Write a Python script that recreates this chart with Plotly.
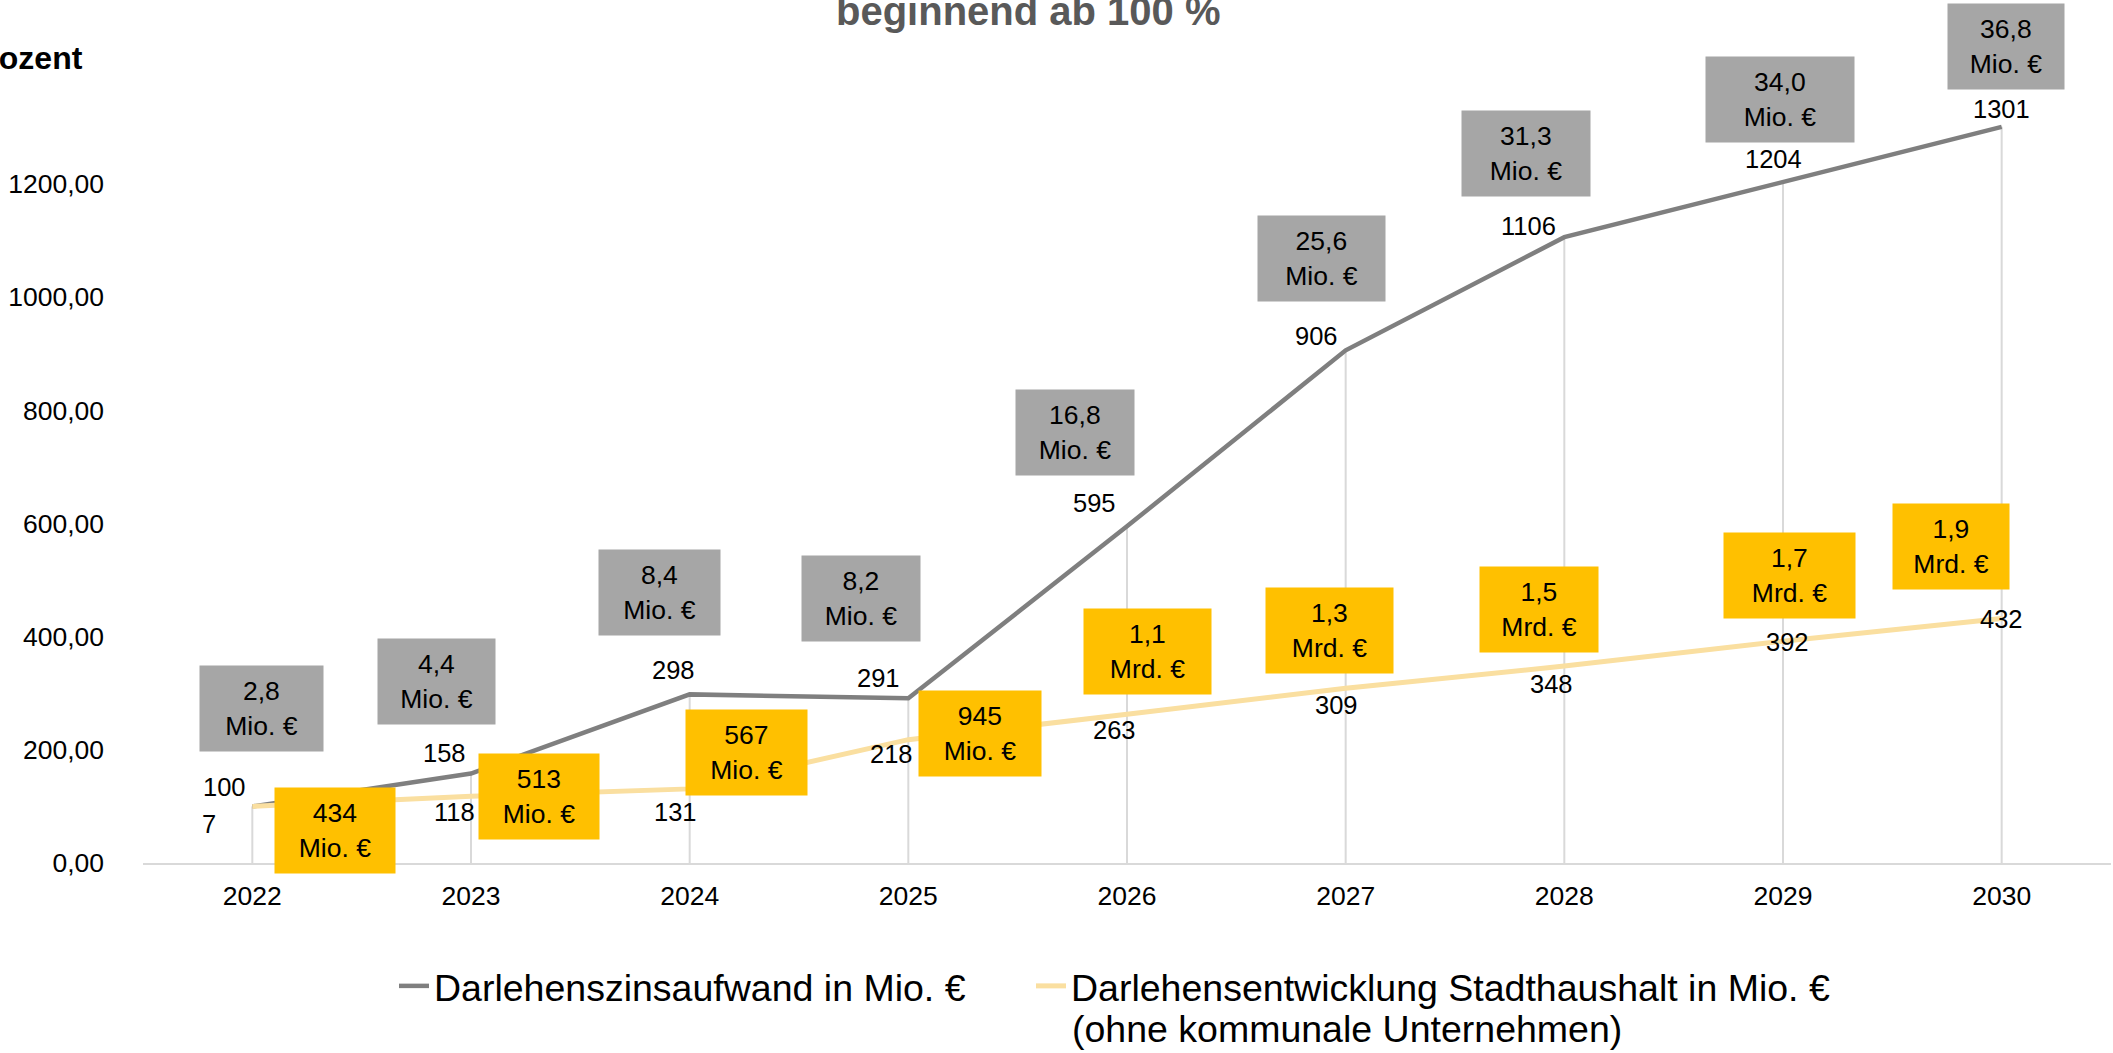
import plotly.graph_objects as go

# ---------------- data ----------------
YEARS = ["2022", "2023", "2024", "2025", "2026", "2027", "2028", "2029", "2030"]
ZINS_INDEX = [100, 158, 298, 291, 595, 906, 1106, 1204, 1301]
DARLEHEN_INDEX = [100, 118, 131, 218, 263, 309, 348, 392, 432]
ZINS_VALUE_LABELS = ["100", "158", "298", "291", "595", "906", "1106", "1204", "1301"]
DARLEHEN_VALUE_LABELS = ["7", "118", "131", "218", "263", "309", "348", "392", "432"]
ZINS_BETRAG = ["2,8<br>Mio. €", "4,4<br>Mio. €", "8,4<br>Mio. €", "8,2<br>Mio. €",
               "16,8<br>Mio. €", "25,6<br>Mio. €", "31,3<br>Mio. €", "34,0<br>Mio. €",
               "36,8<br>Mio. €"]
DARLEHEN_BETRAG = ["434<br>Mio. €", "513<br>Mio. €", "567<br>Mio. €", "945<br>Mio. €",
                   "1,1<br>Mrd. €", "1,3<br>Mrd. €", "1,5<br>Mrd. €", "1,7<br>Mrd. €",
                   "1,9<br>Mrd. €"]
Y_TICKS = [0, 200, 400, 600, 800, 1000, 1200]
Y_TICK_LABELS = ["0,00", "200,00", "400,00", "600,00", "800,00", "1000,00", "1200,00"]
SERIES_NAMES = ["Darlehenszinsaufwand in Mio. €",
                "Darlehensentwicklung Stadthaushalt in Mio. €"]
SERIES2_NAME_LINE2 = "(ohne kommunale Unternehmen)"
TITLE_TEXT = "beginnend ab 100 %"
AXIS_TITLE = "Prozent"

# ---------------- layout constants (pixel offsets of labels) ----------------
ZINS_LABEL_OFF = [(-28, -19), (-27, -21), (-16, -24), (-30, -20), (-33, -23),
                  (-29, -14), (-36, -11), (-10, -23), (0, -18)]
DARL_LABEL_OFF = [(-43, 18), (-17, 16), (-14, 23), (-17, 14), (-13, 16),
                  (-9, 17), (-13, 18), (4, 1), (0, 0)]
ZINS_BOX_OFF = [(9, -98), (-35, -92), (-30, -102), (-47, -100), (-52, -94),
                (-24, -92), (-38, -84), (-3, -82), (4, -80)]
DARL_BOX_OFF = [(83, 24), (68, 0), (57, -36), (72, -6), (20, -63),
                (-16, -58), (-25, -57), (6, -66), (-51, -72)]
ZINS_BOX_W = [123, 117, 121, 118, 118, 127, 128, 148, 116]
DARL_BOX_W = [120, 120, 121, 122, 127, 127, 118, 131, 116]
BOX_H = 85

GRAY_LINE = "#7F7F7F"
YELLOW_LINE = "#FADFA0"
GRAY_BOX = "#A6A6A6"
YELLOW_BOX = "#FFC000"
GRID = "#D9D9D9"
FONT = "Liberation Sans, Arial, sans-serif"
LEGEND_SIZE = 37.5

W, H = 2113, 1053
M_L, M_R, M_T, M_B = 143, 2, 0, 190
PLOT_H = H - M_T - M_B
PX_PER_UNIT = (PLOT_H - 184) / 1200.0
Y_MAX = PLOT_H / PX_PER_UNIT
PLOT_W = W - M_L - M_R

fig = go.Figure()

# drop lines from axis to the highest point of each category
dx, dy = [], []
for cat, a, b in zip(YEARS, ZINS_INDEX, DARLEHEN_INDEX):
    dx += [cat, cat, None]
    dy += [0, max(a, b), None]
fig.add_trace(go.Scatter(x=dx, y=dy, mode="lines", line=dict(color=GRID, width=2),
                         showlegend=False, hoverinfo="skip"))

fig.add_trace(go.Scatter(x=YEARS, y=ZINS_INDEX, mode="lines", name=SERIES_NAMES[0],
                         line=dict(color=GRAY_LINE, width=4.5), legend="legend"))
fig.add_trace(go.Scatter(x=YEARS, y=DARLEHEN_INDEX, mode="lines", name=SERIES_NAMES[1],
                         line=dict(color=YELLOW_LINE, width=5), legend="legend2"))

annotations = []
label_font = dict(family=FONT, size=25.5, color="#000000")
box_font = dict(family=FONT, size=26.5, color="#000000")

for i, cat in enumerate(YEARS):
    xi = YEARS.index(cat)  # category position on the category axis
    ox, oy = ZINS_LABEL_OFF[i]
    annotations.append(dict(x=xi, y=ZINS_INDEX[i], xref="x", yref="y", text=ZINS_VALUE_LABELS[i],
                            showarrow=False, xshift=ox, yshift=-oy, font=label_font,
                            xanchor="center", yanchor="middle"))
    ox, oy = DARL_LABEL_OFF[i]
    annotations.append(dict(x=xi, y=DARLEHEN_INDEX[i], xref="x", yref="y", text=DARLEHEN_VALUE_LABELS[i],
                            showarrow=False, xshift=ox, yshift=-oy, font=label_font,
                            xanchor="center", yanchor="middle"))

for i, cat in enumerate(YEARS):
    xi = YEARS.index(cat)
    ox, oy = ZINS_BOX_OFF[i]
    annotations.append(dict(x=xi, y=ZINS_INDEX[i], xref="x", yref="y", text=ZINS_BETRAG[i],
                            showarrow=False, xshift=ox, yshift=-oy, font=box_font,
                            bgcolor=GRAY_BOX, width=ZINS_BOX_W[i], height=BOX_H, borderpad=0,
                            xanchor="center", yanchor="middle", align="center", valign="middle"))
    ox, oy = DARL_BOX_OFF[i]
    annotations.append(dict(x=xi, y=DARLEHEN_INDEX[i], xref="x", yref="y", text=DARLEHEN_BETRAG[i],
                            showarrow=False, xshift=ox, yshift=-oy, font=box_font,
                            bgcolor=YELLOW_BOX, width=DARL_BOX_W[i], height=BOX_H, borderpad=0,
                            xanchor="center", yanchor="middle", align="center", valign="middle"))

# title (top partly cut off) and axis title (left partly cut off), as in the reference
annotations.append(dict(x=(1028 - M_L) / PLOT_W, y=1 - 11 / PLOT_H, xref="paper", yref="paper",
                        text="<b>" + TITLE_TEXT + "</b>", showarrow=False,
                        font=dict(family=FONT, size=40, color="#595959"),
                        xanchor="center", yanchor="middle"))
annotations.append(dict(x=(85 - M_L) / PLOT_W, y=1 - 58 / PLOT_H, xref="paper", yref="paper",
                        text="<b>" + AXIS_TITLE + "</b>", showarrow=False,
                        font=dict(family=FONT, size=32, color="#000000"),
                        xanchor="right", yanchor="middle"))
# second line of the second legend entry
annotations.append(dict(x=(1071 - M_L) / PLOT_W, y=1 - 1029 / PLOT_H, xref="paper", yref="paper",
                        text=SERIES2_NAME_LINE2, showarrow=False,
                        font=dict(family=FONT, size=LEGEND_SIZE, color="#000000"),
                        xanchor="left", yanchor="middle", borderpad=0))

legend_common = dict(orientation="h", xanchor="left", yref="container", xref="container",
                     y=1 - 955 / H, yanchor="top",
                     font=dict(family=FONT, size=LEGEND_SIZE, color="#000000"),
                     valign="top", bgcolor="rgba(0,0,0,0)")

fig.update_layout(
    width=W, height=H,
    margin=dict(l=M_L, r=M_R, t=M_T, b=M_B, pad=0),
    paper_bgcolor="white", plot_bgcolor="white",
    font=dict(family=FONT, color="#000000"),
    showlegend=True,
    legend=dict(x=394 / W, **legend_common),
    legend2=dict(x=1031 / W, **legend_common),
    xaxis=dict(type="category", range=[-0.5, len(YEARS) - 0.5], showgrid=False,
               showline=True, linecolor=GRID, linewidth=2, zeroline=False,
               ticks="", tickfont=dict(family=FONT, size=26.5, color="#000000"),
               ticklabelstandoff=8, fixedrange=True),
    yaxis=dict(range=[0, Y_MAX], tickvals=Y_TICKS, ticktext=Y_TICK_LABELS,
               showgrid=False, zeroline=False, showline=False, ticks="",
               tickfont=dict(family=FONT, size=26.5, color="#000000"),
               ticklabelstandoff=38, fixedrange=True),
    annotations=annotations,
    hovermode=False,
)

fig.write_html("out.html", config={"displayModeBar": False},
               post_script="document.body.style.margin='0';document.body.style.overflow='hidden';")
